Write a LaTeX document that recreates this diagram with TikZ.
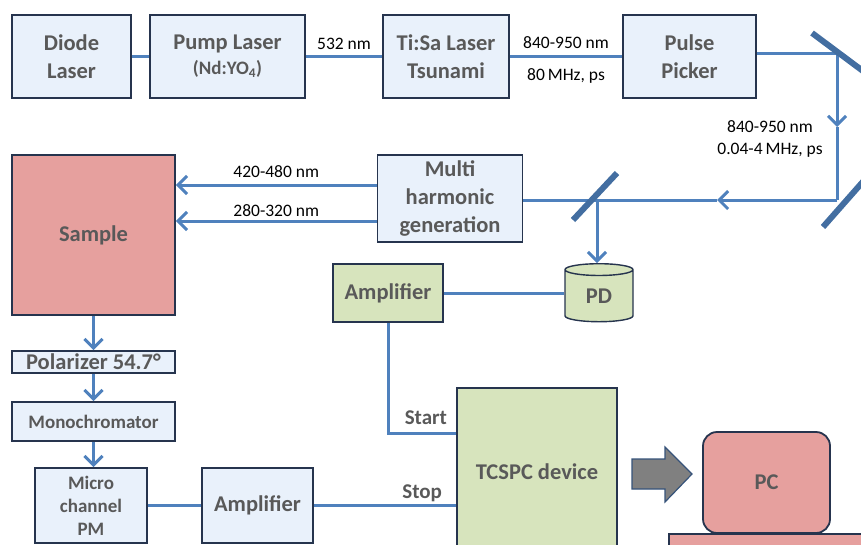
\documentclass[tikz,border=0pt]{standalone}
\usepackage{fontspec}
\setmainfont{Carlito}
\usetikzlibrary{arrows.meta, shapes.geometric}
\definecolor{beamblue}{RGB}{79,129,189}
\definecolor{boxedge}{RGB}{38,52,78}
\definecolor{boxblue}{RGB}{233,241,251}
\definecolor{boxgreen}{RGB}{215,228,189}
\definecolor{boxpink}{RGB}{230,160,158}
\definecolor{labelgrey}{RGB}{89,89,89}
\definecolor{arrowgrey}{RGB}{128,128,128}
\newcommand{\boxfont}{\fontsize{22.5}{28}\selectfont\bfseries}
\newcommand{\smallbox}{\fontsize{19}{23}\selectfont\bfseries}

\begin{document}
\begin{tikzpicture}[x=1pt, y=-1pt,
  every node/.style = {inner sep=0pt},
  unit/.style = {draw=boxedge, line width=1.8pt, fill=boxblue, text=labelgrey, font=\boxfont, align=center},
  beam/.style = {draw=beamblue, line width=3pt},
  ray/.style = {beam, -{Straight Barb[length=9pt, width=18pt]}},
  mirror/.style = {draw=beamblue!85!black, line width=6pt},
  beamlabel/.style = {font=\fontsize{17.5}{22}\selectfont, text=black, align=center},
  portlabel/.style = {font=\fontsize{21}{21}\selectfont\bfseries, text=labelgrey}
]
  \clip (0,0) rectangle (861,544);

  % laser chain
  \node[unit, minimum width=119, minimum height=83] (diode) at (71.5,56.5) {Diode\\Laser};
  \node[unit, minimum width=155, minimum height=83] (pump) at (227.5,56.5)
    {Pump Laser\\[-3pt]{\fontsize{19}{19}\selectfont(Nd:YO\textsubscript{4})}};
  \node[unit, minimum width=126, minimum height=83] (tisa) at (446,56.5) {Ti:Sa Laser\\Tsunami};
  \node[unit, minimum width=133, minimum height=83] (picker) at (689.5,56.5) {Pulse\\Picker};
  \node[unit, minimum width=145, minimum height=87] (mhg) at (450,198.5) {Multi\\harmonic\\generation};

  % detection side
  \node[unit, fill=boxpink, minimum width=163, minimum height=160] (sample) at (93.5,235) {Sample};
  \node[unit, font=\fontsize{22.5}{22.5}\selectfont\bfseries, minimum width=163, minimum height=22] (pol) at (93.5,362) {Polarizer 54.7°};
  \node[unit, font=\smallbox, minimum width=163, minimum height=39] (mono) at (93.5,421.5) {Monochromator};
  \node[unit, font=\smallbox, minimum width=112, minimum height=75] (mcp) at (91,505.5) {Micro\\channel\\PM};
  \node[unit, minimum width=111, minimum height=75] (ampbot) at (257.5,505.5) {Amplifier};
  \node[unit, fill=boxgreen, minimum width=110, minimum height=58] (amptop) at (388,293) {Amplifier};
  \node[cylinder, shape border rotate=90, aspect=0.45, draw=boxedge, line width=1.4pt, fill=boxgreen,
    minimum width=68, minimum height=58, text=labelgrey, font=\boxfont] (pd) at (599,296) {PD};
  \node[unit, fill=boxgreen, minimum width=160, minimum height=167] (tcspc) at (537,471.5) {TCSPC device};
  \node[unit, fill=boxpink, rounded corners=14pt, minimum width=127, minimum height=101] (pc) at (766.5,482.5) {PC};
  \node[unit, fill=boxpink, minimum width=240, minimum height=30, anchor=north west] (desk) at (668,533) {};

  % block arrow to the PC
  \draw[draw=boxedge!60!beamblue, line width=1.2pt, fill=arrowgrey, line join=miter]
    (632,459) -- (665,459) -- (665,447) -- (692,474) -- (665,502) -- (665,489) -- (632,489) -- cycle;

  % beam path corners
  \coordinate (m1) at (837,53);
  \coordinate (a1) at (837,127);
  \coordinate (m2) at (837,200);
  \coordinate (a2) at (717,200);
  \coordinate (bs) at (597,200);

  \draw[beam] (diode) -- (pump);
  \draw[beam] (pump) -- node[beamlabel, above=5pt] (l532) {532 nm} (tisa);
  \draw[beam] (tisa) -- node[beamlabel, above=6pt] (lir) {840-950 nm}
    node[beamlabel, below=11pt] (lrep) {80\,MHz, ps} (picker);
  \draw[beam] (picker.east |- m1) -- (m1);
  \draw[ray] (m1) -- (a1);
  \draw[beam] (a1) -- (m2);
  \node[beamlabel] (lpick) at (770,139) {840-950 nm\\0.04-4\,MHz, ps};
  \draw[ray] (m2) -- (a2);
  \draw[beam] (a2) -- (mhg.east |- m2);
  \draw[ray] (bs) -- (bs |- pd.north);

  \coordinate (h1) at ([yshift=13.5pt]mhg.west);
  \coordinate (h2) at ([yshift=-22.5pt]mhg.west);
  \draw[ray] (h1) -- node[beamlabel, above=6pt] (lblue) {420-480 nm} (h1 -| sample.east);
  \draw[ray] (h2) -- node[beamlabel, above=3pt] (luv) {280-320 nm} (h2 -| sample.east);

  \draw[ray] (sample) -- (pol);
  \draw[ray] (pol) -- (mono);
  \draw[ray] (mono.south) -- (mono.south |- mcp.north);
  \draw[beam] (mcp) -- (ampbot);
  \draw[beam] (amptop.east) -- (amptop.east -| pd.west);

  \coordinate (start) at ([yshift=38.5pt]tcspc.west);
  \draw[beam] (amptop.south) |- (start);
  \node[portlabel, anchor=south east] (lstart) at ([xshift=-9pt, yshift=8pt]start) {Start};
  \draw[beam] (ampbot.east) -- (ampbot.east -| tcspc.west);
  \node[portlabel, anchor=south east] (lstop) at ([xshift=-14pt, yshift=4pt]ampbot.east -| tcspc.west) {Stop};

  % mirrors
  \draw[mirror] (812,33) -- (875,80);
  \draw[mirror] (823,227) -- (875,168);
  \draw[mirror] (573,220) -- (617,173);
\end{tikzpicture}
\end{document}
